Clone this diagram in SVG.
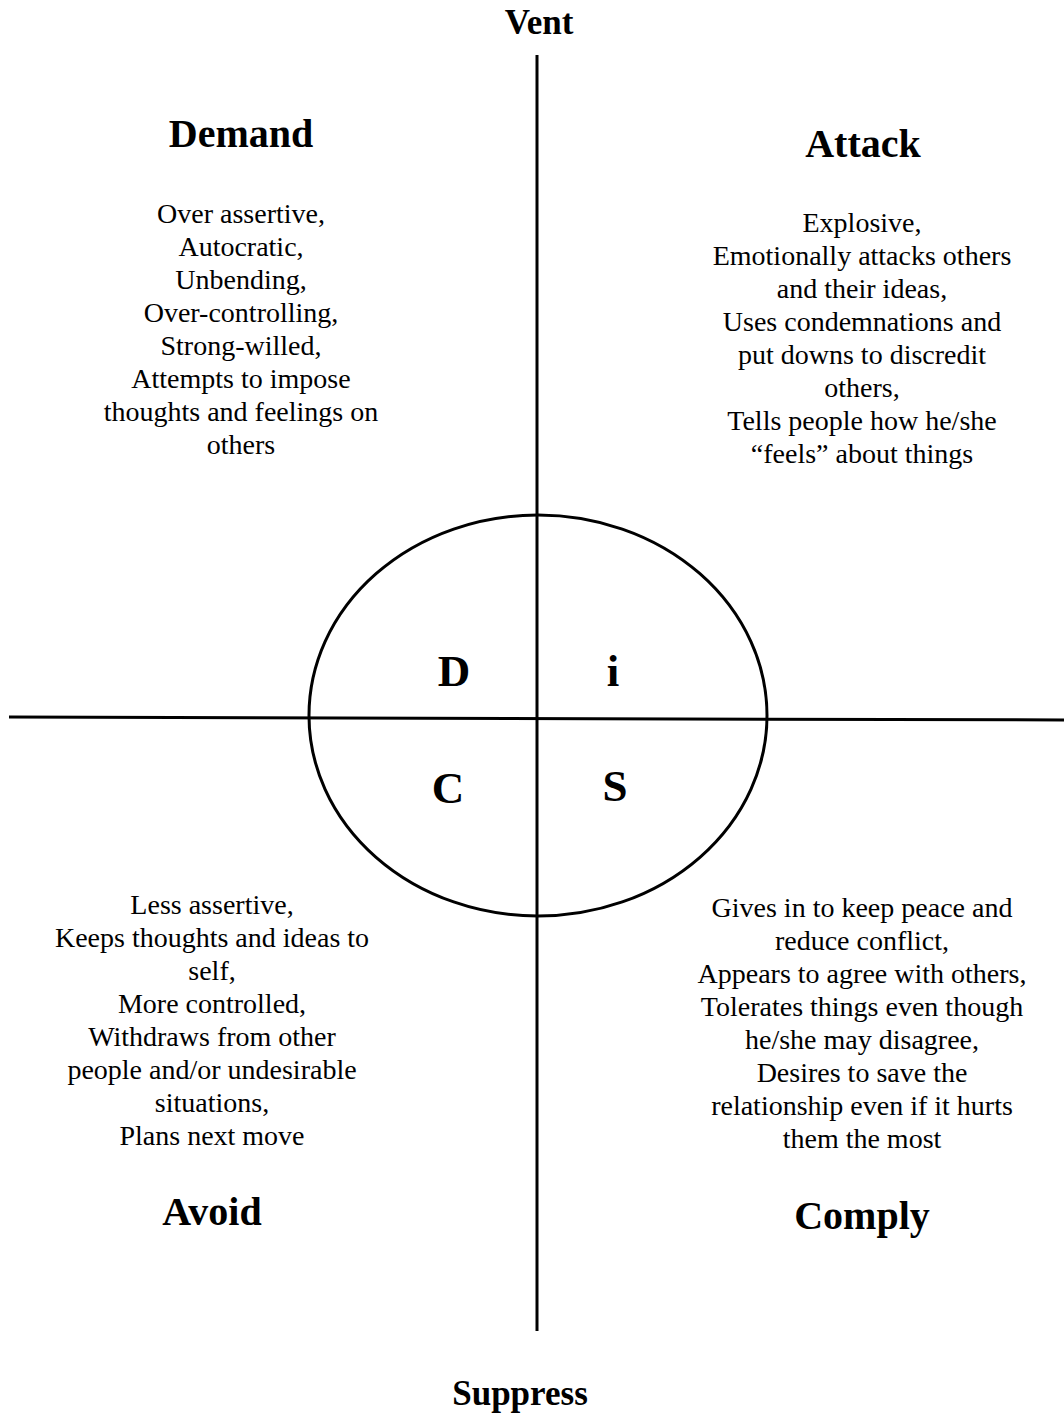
<svg xmlns="http://www.w3.org/2000/svg" width="1064" height="1413" viewBox="0 0 1064 1413">
<style>
text{font-family:"Liberation Serif","Times New Roman",serif;fill:#000;text-anchor:middle}
.h{font-weight:bold;font-size:40px}
.ax{font-weight:bold;font-size:35px}
.b{font-size:28px}
.l{font-weight:bold;font-size:45px}
.ln{stroke:#000;stroke-width:3;fill:none}
</style>
<rect width="1064" height="1413" fill="#fff"/>
<g id="connectors">
<line class="ln" x1="537" y1="55" x2="537" y2="1331"/>
<line class="ln" x1="9" y1="717" x2="1064" y2="720"/>
</g>
<g id="circle">
<ellipse class="ln" cx="538" cy="715.5" rx="229" ry="200.5"/>
<text class="l" x="454" y="686">D</text>
<text class="l" x="613" y="686">i</text>
<text class="l" x="448" y="803">C</text>
<text class="l" x="615" y="801">S</text>
</g>
<g id="vent"><text class="ax" x="539" y="34">Vent</text></g>
<g id="suppress"><text class="ax" x="520" y="1405">Suppress</text></g>
<g id="demand">
<text class="h" x="241" y="147">Demand</text>
<text class="b" x="241" y="223">Over assertive,</text>
<text class="b" x="241" y="256">Autocratic,</text>
<text class="b" x="241" y="289">Unbending,</text>
<text class="b" x="241" y="322">Over-controlling,</text>
<text class="b" x="241" y="355">Strong-willed,</text>
<text class="b" x="241" y="388">Attempts to impose</text>
<text class="b" x="241" y="421">thoughts and feelings on</text>
<text class="b" x="241" y="454">others</text>
</g>
<g id="attack">
<text class="h" x="863" y="157">Attack</text>
<text class="b" x="862" y="232">Explosive,</text>
<text class="b" x="862" y="265">Emotionally attacks others</text>
<text class="b" x="862" y="298">and their ideas,</text>
<text class="b" x="862" y="331">Uses condemnations and</text>
<text class="b" x="862" y="364">put downs to discredit</text>
<text class="b" x="862" y="397">others,</text>
<text class="b" x="862" y="430">Tells people how he/she</text>
<text class="b" x="862" y="463">“feels” about things</text>
</g>
<g id="avoid">
<text class="b" x="212" y="914">Less assertive,</text>
<text class="b" x="212" y="947">Keeps thoughts and ideas to</text>
<text class="b" x="212" y="980">self,</text>
<text class="b" x="212" y="1013">More controlled,</text>
<text class="b" x="212" y="1046">Withdraws from other</text>
<text class="b" x="212" y="1079">people and/or undesirable</text>
<text class="b" x="212" y="1112">situations,</text>
<text class="b" x="212" y="1145">Plans next move</text>
<text class="h" x="212" y="1225">Avoid</text>
</g>
<g id="comply">
<text class="b" x="862" y="917">Gives in to keep peace and</text>
<text class="b" x="862" y="950">reduce conflict,</text>
<text class="b" x="862" y="983">Appears to agree with others,</text>
<text class="b" x="862" y="1016">Tolerates things even though</text>
<text class="b" x="862" y="1049">he/she may disagree,</text>
<text class="b" x="862" y="1082">Desires to save the</text>
<text class="b" x="862" y="1115">relationship even if it hurts</text>
<text class="b" x="862" y="1148">them the most</text>
<text class="h" x="862" y="1229">Comply</text>
</g>
</svg>
